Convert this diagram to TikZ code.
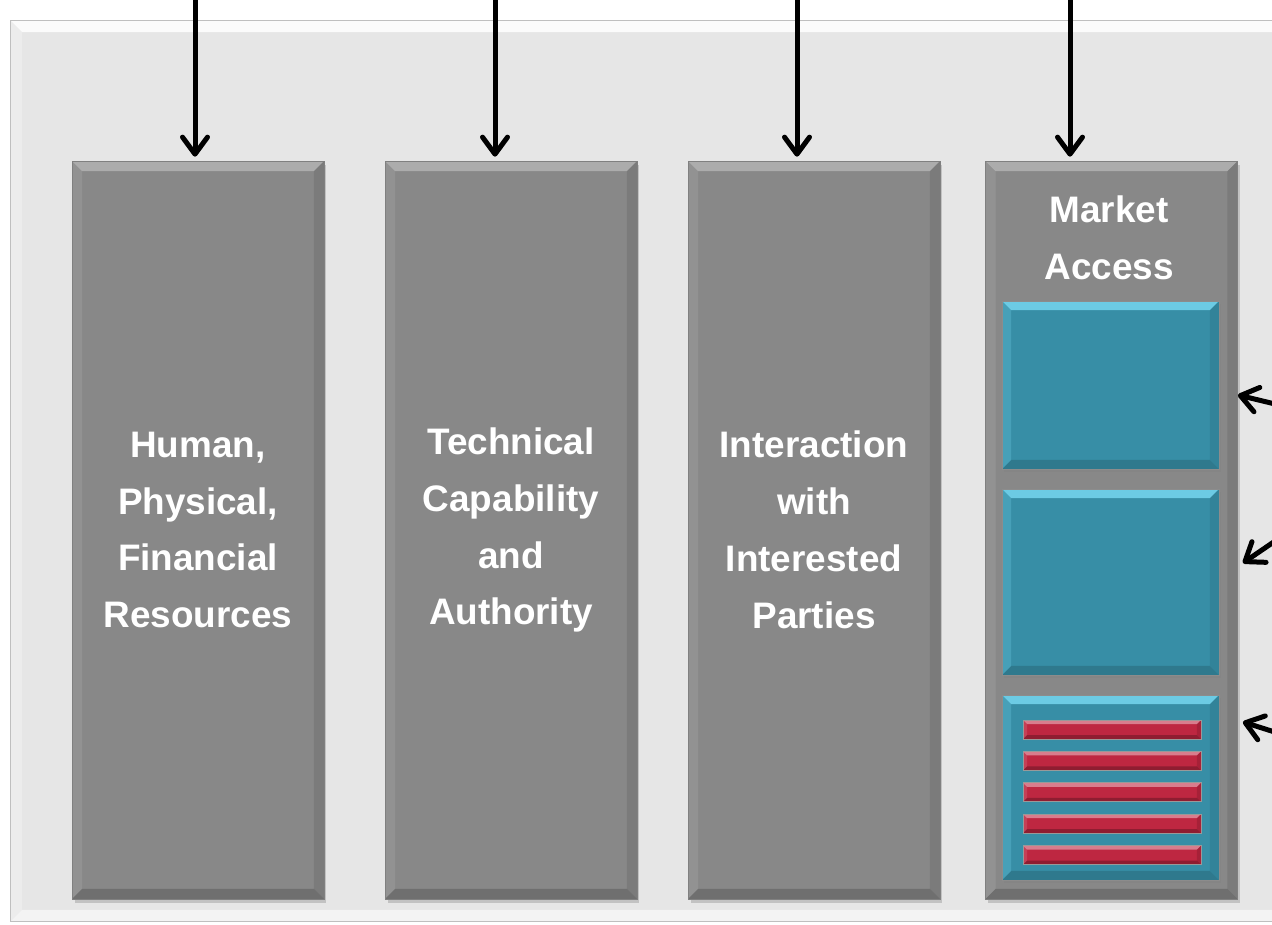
\documentclass[tikz,border=0pt]{standalone}
\usepackage{fontspec}
\setmainfont{Liberation Sans}
\usetikzlibrary{positioning,shadows,arrows.meta}
\definecolor{boardgray}{HTML}{E6E6E6}
\definecolor{pillargray}{HTML}{888888}
\definecolor{accessteal}{HTML}{378EA6}
\definecolor{accesslight}{HTML}{6CCBE4}
\definecolor{barred}{HTML}{BE2741}
\tikzset{
	bevel/.style n args={3}{
		path picture={
			\coordinate (bnw) at (path picture bounding box.north west);
			\coordinate (bse) at (path picture bounding box.south east);
			\coordinate (bne) at (bnw -| bse);
			\coordinate (bsw) at (bnw |- bse);
			\fill[#1] (bnw) -- (bne) -- ([shift={(-#3,-#3)}]bne) -- ([shift={(#3,-#3)}]bnw) -- cycle;
			\fill[#2] (bsw) -- (bse) -- ([shift={(-#3,#3)}]bse) -- ([shift={(#3,#3)}]bsw) -- cycle;
			\fill[#2, opacity=0.5] (bne) -- (bse) -- ([shift={(-#3,#3)}]bse) -- ([shift={(-#3,-#3)}]bne) -- cycle;
			\fill[#1, opacity=0.3] (bnw) -- (bsw) -- ([shift={(#3,#3)}]bsw) -- ([shift={(#3,-#3)}]bnw) -- cycle;
		}
	},
	board/.style={
		rectangle,
		fill=boardgray,
		draw=black!25,
		line width=0.5pt,
		minimum width=25.6cm,
		minimum height=18.04cm,
		bevel={white!85!boardgray}{white!50!boardgray}{0.24cm}
	},
	pillar/.style={
		rectangle,
		fill=pillargray,
		draw=black!50,
		line width=0.5pt,
		minimum width=5.04cm,
		minimum height=14.76cm,
		drop shadow={shadow xshift=0.05cm, shadow yshift=-0.08cm, opacity=0.35},
		bevel={white!30!pillargray}{black!18!pillargray}{0.2cm},
		text=white,
		align=center,
		font=\bfseries\fontsize{21}{32.4}\selectfont
	},
	panel/.style={
		rectangle,
		fill=accessteal,
		draw=black!45,
		line width=0.5pt,
		minimum width=4.34cm,
		drop shadow={shadow xshift=0.04cm, shadow yshift=-0.06cm, opacity=0.35},
		bevel={accesslight}{black!15!accessteal}{0.18cm}
	},
	strip/.style={
		rectangle,
		fill=barred,
		draw=black!40,
		line width=0.4pt,
		inner sep=0pt,
		minimum width=3.56cm,
		minimum height=0.38cm,
		bevel={white!40!barred}{black!25!barred}{0.08cm}
	},
	feed/.style={line width=0.1cm, -{Straight Barb[round, length=0.34cm, width=0.5cm]}}
}
\begin{document}
\begin{tikzpicture}[x=0.02cm, y=-0.02cm]
	\useasboundingbox (0,0) rectangle (1272,924);
	\node[board] (board) at (650,471) {};
	\node[pillar] (human) at (198,530) {Human,\\Physical,\\Financial\\Resources};
	\node[pillar] (technical) at (511,530) {Technical\\Capability\\and\\Authority};
	\node[pillar] (interaction) at (814,530) {Interaction\\with\\Interested\\Parties};
	\node[pillar] (market) at (1111.5,530) {};
	\node[text=white, align=center, font=\bfseries\fontsize{21}{32.4}\selectfont] (markettitle) at (1109,238) {Market\\Access};
	\node[panel, minimum height=3.36cm] (access1) at (1110.5,385) {};
	\node[panel, minimum height=3.72cm] (access2) at (1110.5,582) {};
	\node[panel, minimum height=3.7cm] (access3) at (1110.5,787.5) {};
	\foreach \i in {0,...,4}
		\node[strip] (strip\i) at (1112,729.5+31.4*\i) {};
	\foreach \x/\c in {195/human, 495/technical, 797/interaction, 1070/market} {
		\coordinate (in-\c) at (\x,-5);
		\draw[feed, shorten >=0.08cm] (in-\c) -- (in-\c |- \c.north);
	}
	\coordinate (side1) at (1300,410);
	\coordinate (side2) at (1300,524);
	\coordinate (side3) at (1300,740);
	\draw[feed] (side1) -- ([yshift=2.7cm]market.east);
	\draw[feed] (side2) -- ([xshift=0.1cm, yshift=-0.66cm]market.east);
	\draw[feed] (side3) -- ([xshift=0.1cm, yshift=-3.84cm]market.east);
\end{tikzpicture}
\end{document}
